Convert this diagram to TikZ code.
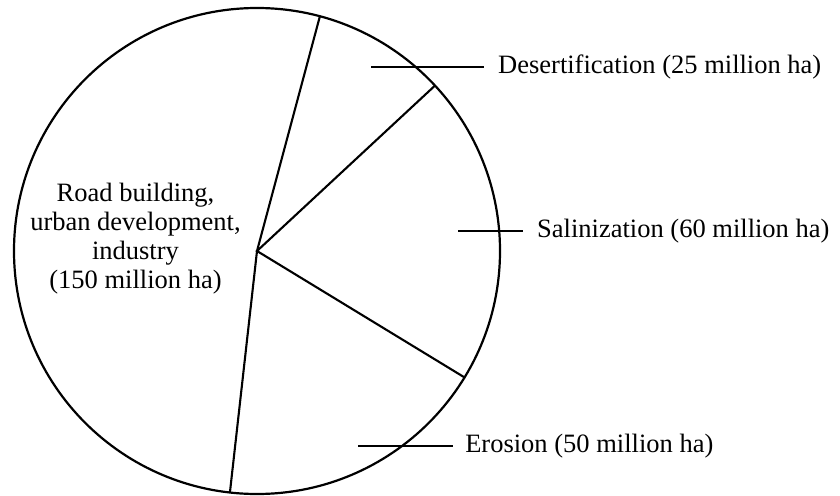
\documentclass[tikz,border=0pt]{standalone}
\usepackage{fontspec}
\setmainfont{Liberation Serif}
\usetikzlibrary{calc}
\begin{document}
\begin{tikzpicture}[x=1pt,y=-1pt,
  rim/.style={line width=2.2pt},
  spoke/.style={line width=2.1pt},
  leader/.style={line width=1.4pt},
  lbl/.style={font=\fontsize{26.5}{28.9}\selectfont, anchor=west, inner xsep=14pt, inner ysep=0pt},
  biglbl/.style={font=\fontsize{26.5}{28.9}\selectfont, align=center, inner sep=0pt}]
\useasboundingbox (0,0) rectangle (840,495);
\coordinate (c) at (257,251);
\draw[rim] (c) circle[radius=243];
\coordinate (p1) at ($(c)+(-75:243)$);
\coordinate (p2) at ($(c)+(-42.9:243)$);
\coordinate (p3) at ($(c)+(31.35:243)$);
\coordinate (p4) at ($(c)+(96.4:243)$);
\draw[spoke] (p1) -- (c) -- (p4);
\draw[spoke] (p2) -- (c) -- (p3);
% labels
\node[lbl] (des) at (484,67) {Desertification (25 million ha)};
\node[lbl] (sal) at (523,231) {Salinization (60 million ha)};
\node[lbl, inner xsep=12.5pt] (ero) at (452.6,446) {Erosion (50 million ha)};
\coordinate (dl) at (371,67);
\coordinate (sl) at (458,231);
\coordinate (el) at (358,446);
\draw[leader] (dl) -- (des.west);
\draw[leader] (sl) -- (sal.west);
\draw[leader] (el) -- (ero.west);
\node[biglbl] (road) at (135.5,238.8) {Road building,\\urban development,\\industry\\(150 million ha)};
\end{tikzpicture}
\end{document}
